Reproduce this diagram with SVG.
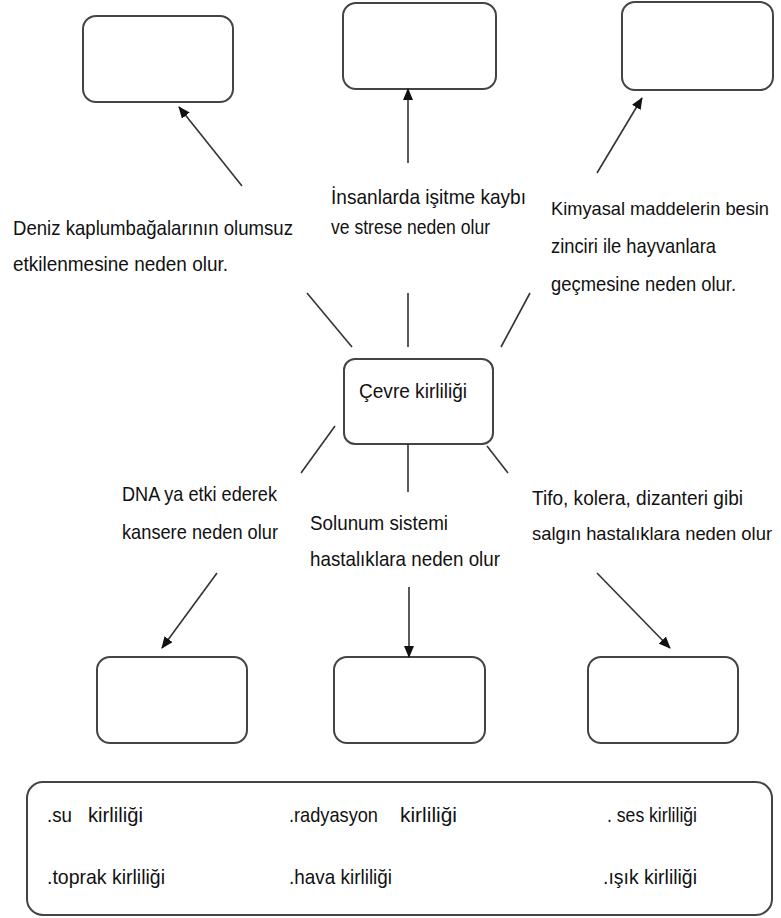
<svg xmlns="http://www.w3.org/2000/svg" width="781" height="918" viewBox="0 0 781 918">
<style>
.box{fill:#fff;stroke:#444;stroke-width:2}
.ln{stroke:#333;stroke-width:1.6;fill:none}
.ar{stroke:#333;stroke-width:1.6;fill:none;marker-end:url(#ah)}
text{font-family:"Liberation Sans",Arial,sans-serif;font-size:21px;fill:#111}
.sm{font-size:18.5px}
</style>
<defs>
<marker id="ah" markerUnits="userSpaceOnUse" markerWidth="12" markerHeight="10" refX="11" refY="5" orient="auto">
<path d="M0,0 L12,5 L0,10 z" fill="#111"/>
</marker>
</defs>
<rect width="781" height="918" fill="#fff"/>

<g id="box-top-left"><rect class="box" x="83" y="16" width="150" height="86" rx="13"/></g>
<g id="box-top-mid"><rect class="box" x="343" y="3" width="153" height="86" rx="13"/></g>
<g id="box-top-right"><rect class="box" x="622" y="2" width="151" height="88" rx="13"/></g>
<g id="center"><rect class="box" x="344" y="359" width="149" height="85" rx="11"/>
<text x="359" y="398" textLength="108" lengthAdjust="spacingAndGlyphs">Çevre kirliliği</text></g>
<g id="box-bot-left"><rect class="box" x="97" y="657" width="150" height="86" rx="13"/></g>
<g id="box-bot-mid"><rect class="box" x="334" y="657" width="151" height="86" rx="13"/></g>
<g id="box-bot-right"><rect class="box" x="588" y="657" width="150" height="86" rx="13"/></g>

<g id="connectors">
<line class="ln" x1="307" y1="293" x2="352" y2="347"/>
<line class="ln" x1="408" y1="293" x2="408" y2="347"/>
<line class="ln" x1="530" y1="293" x2="501" y2="347"/>
<line class="ln" x1="335" y1="426" x2="301" y2="473"/>
<line class="ln" x1="408" y1="444" x2="408" y2="492"/>
<line class="ln" x1="487" y1="446" x2="508" y2="473"/>
<line class="ar" x1="242" y1="186" x2="179" y2="107"/>
<line class="ar" x1="408" y1="163" x2="408" y2="89"/>
<line class="ar" x1="597" y1="173" x2="642" y2="98"/>
<line class="ar" x1="217" y1="573" x2="162" y2="648"/>
<line class="ar" x1="409" y1="587" x2="409" y2="657"/>
<line class="ar" x1="597" y1="573" x2="670" y2="648"/>
</g>

<g id="label-deniz">
<text x="13" y="235" textLength="280" lengthAdjust="spacingAndGlyphs">Deniz kaplumbağalarının olumsuz</text>
<text x="13" y="271" textLength="215" lengthAdjust="spacingAndGlyphs">etkilenmesine neden olur.</text>
</g>
<g id="label-insan">
<text x="331" y="204" textLength="195" lengthAdjust="spacingAndGlyphs">İnsanlarda işitme kaybı</text>
<text x="331" y="234" textLength="159" lengthAdjust="spacingAndGlyphs">ve strese neden olur</text>
</g>
<g id="label-kimya">
<text class="sm" x="551" y="215" textLength="218" lengthAdjust="spacingAndGlyphs">Kimyasal maddelerin besin</text>
<text x="551" y="253" textLength="165" lengthAdjust="spacingAndGlyphs">zinciri ile hayvanlara</text>
<text x="551" y="291" textLength="185" lengthAdjust="spacingAndGlyphs">geçmesine neden olur.</text>
</g>
<g id="label-dna">
<text x="122" y="501" textLength="155" lengthAdjust="spacingAndGlyphs">DNA ya etki ederek</text>
<text x="122" y="539" textLength="156" lengthAdjust="spacingAndGlyphs">kansere neden olur</text>
</g>
<g id="label-solunum">
<text x="310" y="530" textLength="138" lengthAdjust="spacingAndGlyphs">Solunum sistemi</text>
<text x="310" y="566" textLength="190" lengthAdjust="spacingAndGlyphs">hastalıklara neden olur</text>
</g>
<g id="label-tifo">
<text x="532" y="505" textLength="211" lengthAdjust="spacingAndGlyphs">Tifo, kolera, dizanteri gibi</text>
<text class="sm" x="532" y="540" textLength="240" lengthAdjust="spacingAndGlyphs">salgın hastalıklara neden olur</text>
</g>

<g id="legend">
<rect class="box" x="27" y="782" width="745" height="133" rx="16"/>
<text x="47" y="822" textLength="25" lengthAdjust="spacingAndGlyphs">.su</text>
<text x="88" y="822" textLength="55" lengthAdjust="spacingAndGlyphs">kirliliği</text>
<text x="289" y="822" textLength="89" lengthAdjust="spacingAndGlyphs">.radyasyon</text>
<text x="400" y="822" textLength="57" lengthAdjust="spacingAndGlyphs">kirliliği</text>
<text x="607" y="822" textLength="90" lengthAdjust="spacingAndGlyphs">. ses kirliliği</text>
<text x="47" y="884" textLength="118" lengthAdjust="spacingAndGlyphs">.toprak kirliliği</text>
<text x="289" y="884" textLength="103" lengthAdjust="spacingAndGlyphs">.hava kirliliği</text>
<text x="603" y="884" textLength="94" lengthAdjust="spacingAndGlyphs">.ışık kirliliği</text>
</g>
</svg>
